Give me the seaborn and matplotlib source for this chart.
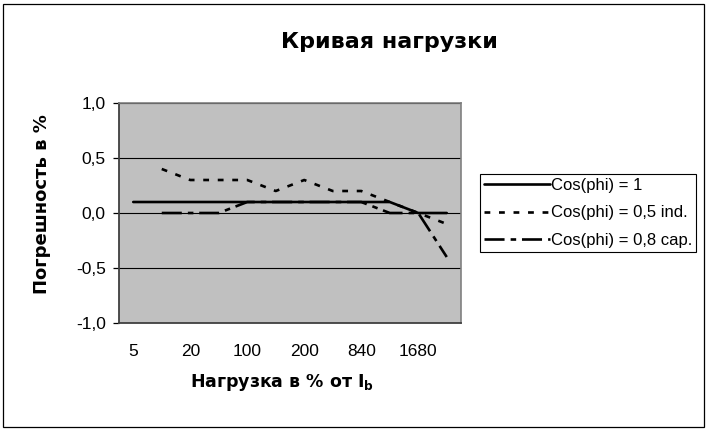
import numpy as np
import pandas as pd
import matplotlib
matplotlib.use("Agg")
import matplotlib.pyplot as plt
import seaborn as sns
from matplotlib.patches import Rectangle

# ---- data ----
categories = ['5', '10', '20', '50', '100', '150', '200', '420', '840', '1200', '1680', '2000']
tick_labels = ['5', '20', '100', '200', '840', '1680']
series_names = ['Cos(phi) = 1', 'Cos(phi) = 0,5 ind.', 'Cos(phi) = 0,8 cap.']
cos_1 = [0.1, 0.1, 0.1, 0.1, 0.1, 0.1, 0.1, 0.1, 0.1, 0.1, 0.0, 0.0]
cos_05_ind = [np.nan, 0.4, 0.3, 0.3, 0.3, 0.2, 0.3, 0.2, 0.2, 0.1, 0.0, -0.1]
cos_08_cap = [np.nan, 0.0, 0.0, 0.0, 0.1, 0.1, 0.1, 0.1, 0.1, 0.0, 0.0, -0.4]
y_ticks = [-1.0, -0.5, 0.0, 0.5, 1.0]

title = 'Кривая нагрузки'
x_label = r'Нагрузка в % от I$_{\mathbf{b}}$'
y_label = 'Погрешность в %'

rows = []
for name, vals in zip(series_names, [cos_1, cos_05_ind, cos_08_cap]):
    for c, v in zip(categories, vals):
        rows.append({'cat': c, 'val': v, 'series': name})
df = pd.DataFrame(rows).dropna()

sns.set_style('white')
plt.rcParams['font.family'] = ['Liberation Sans', 'DejaVu Sans']
plt.rcParams['mathtext.fontset'] = 'dejavusans'
for k in ['text.color', 'axes.labelcolor', 'xtick.color', 'ytick.color']:
    plt.rcParams[k] = 'black'
bold_family = ['DejaVu Sans']

fig = plt.figure(figsize=(7.08, 4.30), dpi=100)
ax = fig.add_axes([119 / 708, 1 - 323 / 430, (461 - 119) / 708, (323 - 103) / 430])
ax.set_facecolor('#C0C0C0')

lw = 1.9
dashes = {
    series_names[0]: '',
    series_names[1]: (2.2, 3.3),
    series_names[2]: (7.6, 2.3, 2.1, 2.2),
}
sns.lineplot(data=df, x='cat', y='val', hue='series', style='series',
             hue_order=series_names, style_order=series_names,
             palette=['black'] * 3, dashes=dashes, linewidth=lw,
             sort=False, ax=ax, zorder=3)

ax.set_xlim(-0.5, len(categories) - 0.5)
ax.set_ylim(-1.0, 1.0)
ax.set_yticks(y_ticks)
ax.set_yticklabels([f'{t:.1f}'.replace('.', ',') for t in y_ticks], fontsize=12.5)
ax.set_xticks([categories.index(t) for t in tick_labels])
ax.set_xticklabels(tick_labels, fontsize=12.5)
ax.tick_params(axis='y', direction='out', length=4.5, width=0.9, color='black', pad=5, left=True)
ax.tick_params(axis='x', length=0, pad=15)
ax.grid(axis='y', color='black', linewidth=0.8, zorder=1)
ax.set_axisbelow(True)
for s in ['top', 'right']:
    ax.spines[s].set_color('#808080')
    ax.spines[s].set_linewidth(1.2)
for s in ['left', 'bottom']:
    ax.spines[s].set_color('#404040')
    ax.spines[s].set_linewidth(1.3)

ax.set_xlabel(x_label, fontsize=12.5, fontweight='bold', family=bold_family)
ax.xaxis.label.set_va('baseline')
ax.xaxis.set_label_coords((282 - 119) / 342, (323 - 387) / 220)
ax.set_ylabel(y_label, fontsize=13, fontweight='bold', family=bold_family)
ax.yaxis.label.set_va('center')
ax.yaxis.set_label_coords((42 - 119) / 342, (323 - 204.5) / 220)

fig.text(389 / 708, 1 - 48 / 430, title, ha='center', va='baseline',
         fontsize=16, fontweight='bold', family=bold_family)

handles, labels = ax.get_legend_handles_labels()
ax.legend(handles=handles, labels=labels, loc='center left',
          bbox_to_anchor=(480 / 708, 1 - 213 / 430), bbox_transform=fig.transFigure,
          frameon=True, fancybox=False, shadow=False, framealpha=1, edgecolor='black',
          fontsize=12, handlelength=3.95, handletextpad=0.05, borderpad=0.25,
          labelspacing=0.75, borderaxespad=0)
ax.get_legend().get_frame().set_linewidth(0.8)

fig.patches.append(Rectangle((3 / 708, 3 / 430), 701 / 708, 423 / 430, transform=fig.transFigure,
                             fill=False, edgecolor='black', linewidth=0.9))

fig.savefig('out.png', dpi=100)
